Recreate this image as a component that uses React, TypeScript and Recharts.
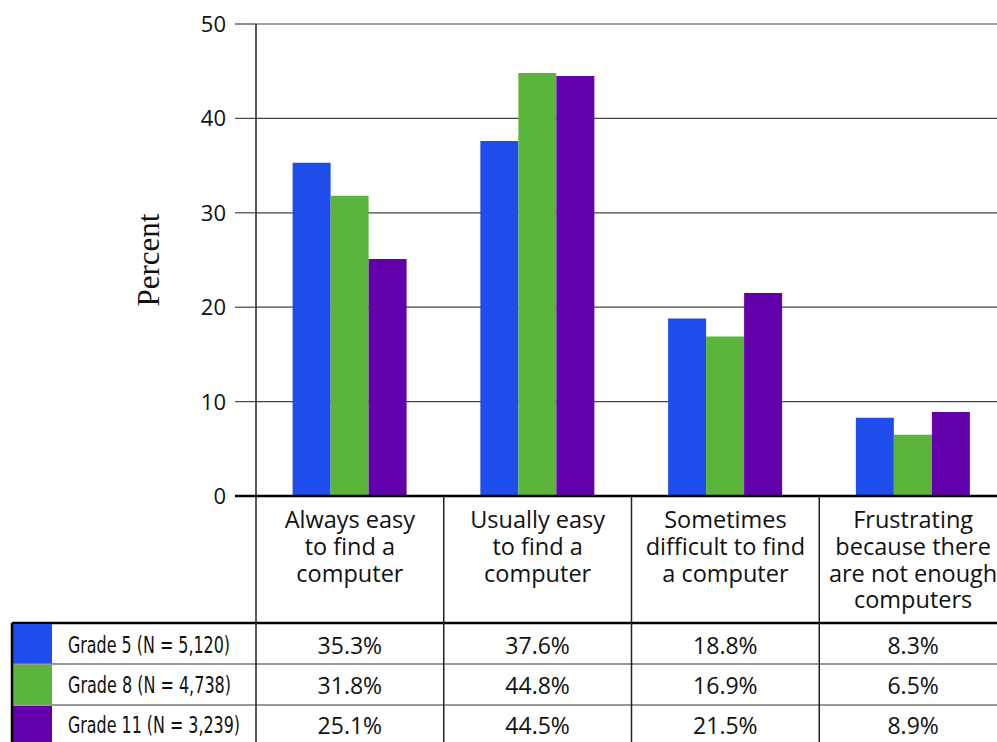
import React from 'react';
import { BarChart, Bar, XAxis, YAxis, CartesianGrid, Customized } from 'recharts';

const categories = [
  'Always easy\nto find a\ncomputer',
  'Usually easy\nto find a\ncomputer',
  'Sometimes\ndifficult to find\na computer',
  'Frustrating\nbecause there\nare not enough\ncomputers',
];
const grade5 = [35.3, 37.6, 18.8, 8.3];
const grade8 = [31.8, 44.8, 16.9, 6.5];
const grade11 = [25.1, 44.5, 21.5, 8.9];
const seriesNames = ['Grade 5 (N = 5,120)', 'Grade 8 (N = 4,738)', 'Grade 11 (N = 3,239)'];
const seriesKeys = ['g5', 'g8', 'g11'];
const seriesColors = ['#1f4deb', '#5bb53a', '#6200ab'];
const yTicks = [0, 10, 20, 30, 40, 50];

const seriesValues = [grade5, grade8, grade11];
const data = categories.map((c, i) => ({ name: c, g5: grade5[i], g8: grade8[i], g11: grade11[i] }));

const W = 1010;
const H = 742;
const MARGIN = { top: 24, right: 3, left: 0, bottom: 0 };
const YAXIS_W = 256;
const XAXIS_H = 246;
const PLOT_W = W - YAXIS_W - MARGIN.left - MARGIN.right;
const BAND = PLOT_W / categories.length;
const TABLE_TOP = 623;
const ROW_H = 41;
const TABLE_LEFT = 12;
const SWATCH_W = 40;
const labelWidths = [162, 163, 172];

const SANS = '"Open Sans", "DejaVu Sans", sans-serif';
const NARROW = '"Liberation Sans Narrow", "DejaVu Sans Condensed", sans-serif';

const XTick = (props: any) => {
  const { x, y, payload, index } = props;
  const lines = String(payload.value).split('\n');
  const half = BAND / 2;
  return (
    <g>
      <line x1={x + half} x2={x + half} y1={y} y2={H} stroke="#222" strokeWidth={1.5} />
      {index === 0 && <line x1={x - half} x2={x - half} y1={y} y2={H} stroke="#222" strokeWidth={1.5} />}
      <text textAnchor="middle" fontFamily={SANS} fontSize={23.5} fill="#111">
        {lines.map((l, k) => (
          <tspan key={k} x={x} y={y + 32 + k * 26.8}>
            {l}
          </tspan>
        ))}
      </text>
      {seriesValues.map((vals, r) => (
        <text key={r} x={x} y={TABLE_TOP + 31 + r * 40} textAnchor="middle" fontFamily={SANS} fontSize={23} fill="#111">
          {vals[index].toFixed(1)}%
        </text>
      ))}
    </g>
  );
};

const YTick = (props: any) => {
  const { x, y, payload } = props;
  const zero = payload.value === 0;
  return (
    <g>
      <line x1={x + 9} x2={x + 30} y1={y} y2={y} stroke={zero ? '#000' : '#444'} strokeWidth={zero ? 2.5 : 1.2} />
      <text x={x} y={y} dy={8} textAnchor="end" fontFamily={SANS} fontSize={22} fill="#111">
        {payload.value}
      </text>
    </g>
  );
};

const TableFrame = () => (
  <g>
    <line x1={TABLE_LEFT} x2={W} y1={TABLE_TOP} y2={TABLE_TOP} stroke="#000" strokeWidth={2.5} />
    {[1, 2].map((r) => (
      <line key={r} x1={TABLE_LEFT} x2={W} y1={TABLE_TOP + r * ROW_H} y2={TABLE_TOP + r * ROW_H} stroke="#333" strokeWidth={1} />
    ))}
    {seriesNames.map((n, r) => (
      <g key={n}>
        <rect x={TABLE_LEFT} y={TABLE_TOP + 1 + r * ROW_H} width={SWATCH_W} height={ROW_H - 1.5} fill={seriesColors[r]} />
        <text
          x={68}
          y={TABLE_TOP + 30 + r * 40}
          fontFamily={NARROW}
          fontSize={22.5}
          fill="#111"
          textLength={labelWidths[r]}
          lengthAdjust="spacingAndGlyphs"
        >
          {n}
        </text>
      </g>
    ))}
    <line x1={TABLE_LEFT} x2={TABLE_LEFT} y1={TABLE_TOP} y2={H} stroke="#000" strokeWidth={2.5} />
  </g>
);

export default function App() {
  return (
    <div style={{ position: 'fixed', left: 0, top: 0, width: 997, height: 742, overflow: 'hidden', background: '#fff' }}>
      <BarChart width={W} height={H} data={data} margin={MARGIN} barCategoryGap="19.5%" barGap={0}>
        <CartesianGrid vertical={false} stroke="#444" strokeWidth={1.2} />
        <XAxis
          dataKey="name"
          height={XAXIS_H}
          interval={0}
          tickLine={false}
          tickSize={0}
          tickMargin={0}
          axisLine={{ stroke: '#000', strokeWidth: 2.5 }}
          tick={<XTick />}
        />
        <YAxis
          width={YAXIS_W}
          domain={[0, 50]}
          ticks={yTicks}
          interval={0}
          tickLine={false}
          tickSize={21}
          tickMargin={9}
          axisLine={{ stroke: '#222', strokeWidth: 1.5 }}
          tick={<YTick />}
          label={{
            value: 'Percent',
            angle: -90,
            position: 'insideLeft',
            dx: 143,
            style: { fontFamily: '"Liberation Serif", "DejaVu Serif", serif', fontSize: 31, fill: '#111', textAnchor: 'middle' },
          }}
        />
        {seriesKeys.map((k, i) => (
          <Bar key={k} dataKey={k} name={seriesNames[i]} fill={seriesColors[i]} isAnimationActive={false} />
        ))}
        <Customized component={TableFrame} />
      </BarChart>
    </div>
  );
}
